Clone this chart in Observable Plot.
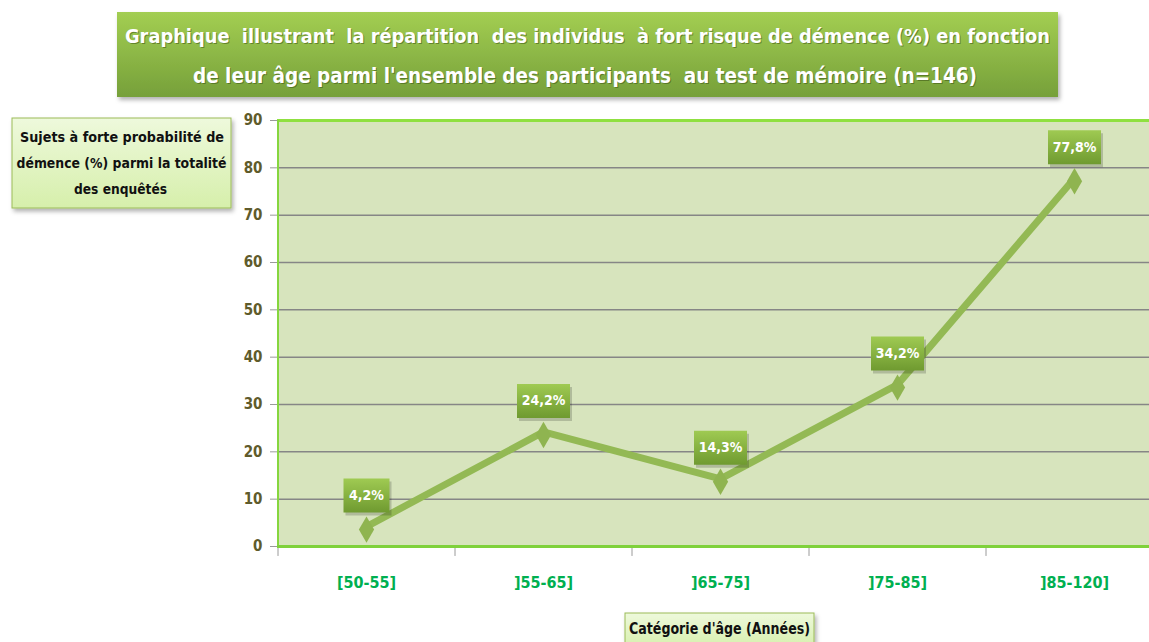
<!DOCTYPE html>
<html>
<head>
<meta charset="utf-8">
<script src="https://cdn.jsdelivr.net/npm/d3@7"></script>
<script src="https://cdn.jsdelivr.net/npm/@observablehq/plot@0.6"></script>
<style>
  html, body { margin: 0; padding: 0; background: #fff; overflow: hidden; }
  #chart svg { display: block; }
</style>
</head>
<body>
<div id="chart"></div>
<script>
// ---- data ----
const categories = ["[50-55]", "]55-65]", "]65-75]", "]75-85]", "]85-120]"];
const values = [4.2, 24.2, 14.3, 34.2, 77.8];
const valueLabels = ["4,2%", "24,2%", "14,3%", "34,2%", "77,8%"];
const yTicks = [0, 10, 20, 30, 40, 50, 60, 70, 80, 90];
const gridTicks = [10, 20, 30, 40, 50, 60, 70, 80];
const titleLines = [
  "Graphique  illustrant  la répartition  des individus  à fort risque de démence (%) en fonction",
  "de leur âge parmi l'ensemble des participants  au test de mémoire (n=146)"
];
const yLabelLines = ["Sujets à forte probabilité de", "démence (%) parmi la totalité", "des enquêtés"];
const xLabel = "Catégorie d'âge (Années)";

const data = categories.map((c, i) => ({cat: c, value: values[i], label: valueLabels[i]}));

const FONT = "'DejaVu Sans Condensed','Liberation Sans Narrow',sans-serif";
const NS = "http://www.w3.org/2000/svg";

function boxSymbol(w) {
  return {
    draw(ctx) {
      ctx.moveTo(-w / 2, -48);
      ctx.lineTo(w / 2, -48);
      ctx.lineTo(w / 2, -14);
      ctx.lineTo(-w / 2, -14);
      ctx.closePath();
    }
  };
}

const defsMark = () => {
  const g = document.createElementNS(NS, "defs");
  g.innerHTML = `
    <linearGradient id="lblGrad" x1="0" y1="0" x2="0" y2="1">
      <stop offset="0" stop-color="#9fca52"/>
      <stop offset="1" stop-color="#6f9a30"/>
    </linearGradient>
    <linearGradient id="titleGrad" x1="0" y1="0" x2="0" y2="1">
      <stop offset="0" stop-color="#a3ce52"/>
      <stop offset="1" stop-color="#76a03a"/>
    </linearGradient>
    <linearGradient id="paleGrad" x1="0" y1="0" x2="0" y2="1">
      <stop offset="0" stop-color="#eef9dc"/>
      <stop offset="1" stop-color="#d6efab"/>
    </linearGradient>
    <filter id="shadow" x="-10%" y="-20%" width="130%" height="150%">
      <feDropShadow dx="2" dy="3" stdDeviation="2" flood-color="#000" flood-opacity="0.3"/>
    </filter>`;
  return g;
};

const decorMark = () => {
  const g = document.createElementNS(NS, "g");
  g.innerHTML = `
    <rect x="117" y="12" width="941" height="85" fill="url(#titleGrad)" filter="url(#shadow)"/>
    <text x="588.5" y="44" text-anchor="middle" fill="#3b5214" fill-opacity="0.55" font-weight="bold" font-size="20"
      textLength="925" lengthAdjust="spacingAndGlyphs">${titleLines[0]}</text>
    <text x="587.5" y="43" text-anchor="middle" fill="#fff" font-weight="bold" font-size="20"
      textLength="925" lengthAdjust="spacingAndGlyphs">${titleLines[0]}</text>
    <text x="586" y="84" text-anchor="middle" fill="#3b5214" fill-opacity="0.55" font-weight="bold" font-size="21"
      textLength="784" lengthAdjust="spacingAndGlyphs">${titleLines[1]}</text>
    <text x="585" y="83" text-anchor="middle" fill="#fff" font-weight="bold" font-size="21"
      textLength="784" lengthAdjust="spacingAndGlyphs">${titleLines[1]}</text>

    <rect x="12" y="118" width="219" height="90" fill="url(#paleGrad)" stroke="#9bbb59" stroke-width="1" filter="url(#shadow)"/>
    <text x="122" y="142" text-anchor="middle" fill="#111" font-weight="bold" font-size="14"
      textLength="204" lengthAdjust="spacingAndGlyphs">${yLabelLines[0]}</text>
    <text x="121.5" y="168" text-anchor="middle" fill="#111" font-weight="bold" font-size="14"
      textLength="210" lengthAdjust="spacingAndGlyphs">${yLabelLines[1]}</text>
    <text x="120.5" y="194" text-anchor="middle" fill="#111" font-weight="bold" font-size="14"
      textLength="93" lengthAdjust="spacingAndGlyphs">${yLabelLines[2]}</text>

    <rect x="625" y="613" width="189" height="36" fill="url(#paleGrad)" stroke="#9bbb59" stroke-width="1" filter="url(#shadow)"/>
    <text x="719.5" y="634" text-anchor="middle" fill="#111" font-weight="bold" font-size="16"
      textLength="181" lengthAdjust="spacingAndGlyphs">${xLabel}</text>`;
  return g;
};

const chart = Plot.plot({
  width: 1149,
  height: 642,
  marginTop: 120,
  marginBottom: 96,
  marginLeft: 277,
  marginRight: 0,
  style: {fontFamily: FONT, background: "transparent", overflow: "hidden"},
  x: {type: "point", domain: categories, range: [365.5, 1073.5], padding: 0, label: null},
  y: {domain: [0, 90], label: null},
  marks: [
    defsMark,
    Plot.frame({fill: "#d7e4bd", stroke: "none"}),
    Plot.ruleY(gridTicks, {stroke: "#868686", strokeWidth: 1.5}),
    Plot.ruleY([90], {stroke: "#8fe040", strokeWidth: 3}),
    Plot.ruleX([categories[0]], {dx: -88.5, stroke: "#86d63e", strokeWidth: 2}),
    Plot.ruleX(categories, {x: d => d, dx: -88.5, y1: 0, y2: -2.1, stroke: "#9a9a9a", strokeWidth: 1}),
    Plot.ruleY([0], {stroke: "#7fd13b", strokeWidth: 3}),
    Plot.axisY({ticks: yTicks, tickSize: 7, tickPadding: 8, stroke: "#9a9a9a", fill: "#5f5b2b",
      fontSize: 15, fontWeight: "bold", label: null}),
    Plot.axisX({tickSize: 0, tickPadding: 30, fill: "#00b050", fontSize: 16, fontWeight: "bold", label: null}),
    Plot.line(data, {x: "cat", y: "value", stroke: "#93b954", strokeWidth: 7, strokeLinejoin: "round"}),
    Plot.dot(data, {x: "cat", y: "value", symbol: "diamond", r: 8, fill: "#8fb450", stroke: "none", dy: 3}),
    Plot.dot(data.filter(d => d.label.length <= 4), {x: "cat", y: "value", symbol: boxSymbol(46), r: 5, dx: 2, dy: 3, fill: "#000", fillOpacity: 0.18, stroke: "none"}),
    Plot.dot(data.filter(d => d.label.length > 4), {x: "cat", y: "value", symbol: boxSymbol(53), r: 5, dx: 2, dy: 3, fill: "#000", fillOpacity: 0.18, stroke: "none"}),
    Plot.dot(data.filter(d => d.label.length <= 4), {x: "cat", y: "value", symbol: boxSymbol(46), r: 5, fill: "url(#lblGrad)", stroke: "none"}),
    Plot.dot(data.filter(d => d.label.length > 4), {x: "cat", y: "value", symbol: boxSymbol(53), r: 5, fill: "url(#lblGrad)", stroke: "none"}),
    Plot.text(data, {x: "cat", y: "value", text: "label", dy: -31, fill: "#fff", fontSize: 14, fontWeight: "bold"}),
    decorMark
  ]
});
document.getElementById("chart").appendChild(chart);
</script>
</body>
</html>
